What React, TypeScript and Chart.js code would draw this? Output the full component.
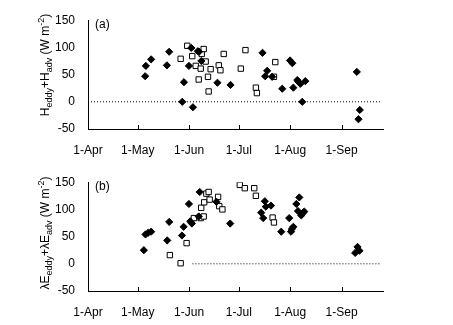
import React, { useEffect, useRef } from 'react';
import { Chart, registerables } from 'chart.js';

Chart.register(...registerables);

// x values are days after 1 April
const monthLabels = ['1-Apr', '1-May', '1-Jun', '1-Jul', '1-Aug', '1-Sep'];
const monthDays = [0, 30, 61, 91, 122, 153];
const xMax = 178;
const yMin = -50;
const yMax = 150;
const yStep = 50;

// Panel (a): H_eddy + H_adv
const aDiamondDays = [34.5, 34.9, 38.1, 47.6, 49.0, 56.9, 57.9, 60.9, 62.3, 63.3, 66.3, 67.0, 68.4, 78.1, 86.0, 105.3, 106.9, 108.1, 111.1, 117.2, 121.9, 123.3, 123.9, 126.3, 126.9, 128.1, 129.3, 131.1, 162.2, 163.2, 164.0];
const aDiamondVals = [47, 66, 78, 67, 92, 0, 36, 66, 99, -10, 93, 92, 75, 35, 31, 90, 47, 57, 46, 24, 76, 71, 26, 40, 37, 33, 0, 38, 55, -32, -15];
const aSquareDays = [55.9, 59.9, 62.9, 65.0, 66.8, 68.0, 68.6, 69.8, 71.0, 72.4, 72.8, 74.0, 78.9, 79.9, 81.9, 92.2, 95.0, 101.3, 101.9, 112.2, 113.0];
const aSquareVals = [79, 103, 84, 66, 41, 61, 88, 97, 74, 46, 19, 60, 67, 58, 88, 61, 95, 26, 16, 46, 73];
const aZeroLineDays = [0, 177];

// Panel (b): λE_eddy + λE_adv
const bDiamondDays = [33.7, 34.7, 36.3, 38.1, 47.8, 49.0, 56.7, 57.7, 60.9, 61.7, 62.7, 66.8, 67.4, 77.5, 85.8, 104.5, 105.7, 106.7, 107.3, 110.4, 116.6, 121.4, 122.5, 123.0, 123.9, 125.7, 126.7, 127.5, 128.7, 129.5, 130.5, 161.2, 162.6, 163.8];
const bDiamondVals = [25, 54, 57, 59, 43, 77, 52, 68, 110, 78, 74, 87, 132, 114, 74, 94, 84, 115, 105, 107, 59, 84, 59, 64, 68, 110, 97, 122, 89, 93, 96, 20, 31, 24];
const bSquareDays = [49.4, 55.9, 59.5, 63.9, 68.0, 69.8, 68.3, 70.1, 71.4, 72.8, 73.4, 78.5, 79.2, 81.1, 91.6, 94.6, 100.3, 101.3, 111.4, 112.2];
const bSquareVals = [16, 1, 38, 84, 84, 87, 103, 113, 129, 132, 118, 123, 106, 100, 145, 139, 139, 125, 85, 76];
const bZeroLineDays = [63, 177];

const FONT = "'Liberation Sans', Arial, Helvetica, sans-serif";

type Part = { t: string; sub?: boolean; sup?: boolean };

const aTitle: Part[] = [
  { t: 'H' }, { t: 'eddy', sub: true }, { t: '+H' }, { t: 'adv', sub: true },
  { t: ' (W m' }, { t: '-2', sup: true }, { t: ')' },
];
const bTitle: Part[] = [
  { t: 'λE' }, { t: 'eddy', sub: true }, { t: '+λE' }, { t: 'adv', sub: true },
  { t: ' (W m' }, { t: '-2', sup: true }, { t: ')' },
];

function pts(xs: number[], ys: number[]) {
  return xs.map((x, i) => ({ x, y: ys[i] }));
}

function makePlugin(title: Part[], label: string, titleCenterY: number) {
  return {
    id: 'decor',
    afterDraw(chart: any) {
      const ctx = chart.ctx as CanvasRenderingContext2D;
      const xs = chart.scales.x;
      const area = chart.chartArea;
      ctx.save();
      // inner x tick marks
      ctx.strokeStyle = '#000';
      ctx.lineWidth = 1;
      ctx.beginPath();
      monthDays.forEach((d) => {
        const px = Math.round(xs.getPixelForValue(d)) + 0.5;
        ctx.moveTo(px, area.bottom);
        ctx.lineTo(px, area.bottom - 4);
      });
      ctx.stroke();
      // panel label
      ctx.fillStyle = '#000';
      ctx.font = `12px ${FONT}`;
      ctx.textAlign = 'left';
      ctx.textBaseline = 'middle';
      ctx.fillText(label, area.left + 7, 25);
      // rotated rich-text y title
      const mainF = `12px ${FONT}`;
      const smallF = `9px ${FONT}`;
      let total = 0;
      const widths = title.map((p) => {
        ctx.font = p.sub || p.sup ? smallF : mainF;
        const w = ctx.measureText(p.t).width;
        total += w;
        return w;
      });
      ctx.translate(48.5, titleCenterY);
      ctx.rotate(-Math.PI / 2);
      ctx.textBaseline = 'alphabetic';
      let u = -total / 2;
      title.forEach((p, i) => {
        ctx.font = p.sub || p.sup ? smallF : mainF;
        const v = p.sub ? 3 : p.sup ? -5 : 0;
        ctx.fillText(p.t, u, v);
        u += widths[i];
      });
      ctx.restore();
    },
  };
}

function buildConfig(
  dDays: number[], dVals: number[], sDays: number[], sVals: number[], zDays: number[],
  title: Part[], label: string, titleCenterY: number,
): any {
  return {
    type: 'scatter',
    data: {
      datasets: [
        {
          label: 'filled',
          data: pts(dDays, dVals),
          pointStyle: 'rectRot',
          pointRadius: 3.6,
          backgroundColor: '#000',
          borderColor: '#000',
          borderWidth: 1,
        },
        {
          label: 'open',
          data: pts(sDays, sVals),
          pointStyle: 'rect',
          pointRadius: 3.8,
          backgroundColor: '#fff',
          borderColor: '#000',
          borderWidth: 1,
        },
        {
          type: 'line',
          label: 'zero',
          data: zDays.map((x) => ({ x, y: 0 })),
          borderColor: '#000',
          borderWidth: 1,
          borderDash: [1, 2],
          pointRadius: 0,
          fill: false,
        },
      ],
    },
    options: {
      responsive: false,
      animation: false,
      layout: { padding: { top: 15, right: 70, left: 0, bottom: 0 } },
      plugins: { legend: { display: false }, tooltip: { enabled: false }, title: { display: false } },
      scales: {
        x: {
          type: 'linear',
          min: 0,
          max: xMax,
          grid: { display: false, drawTicks: false },
          border: { display: true, color: '#000', width: 1 },
          afterBuildTicks: (s: any) => {
            s.ticks = monthDays.map((v) => ({ value: v }));
          },
          afterFit: (s: any) => {
            s.height = 33;
          },
          ticks: {
            autoSkip: false,
            maxRotation: 0,
            padding: 14,
            color: '#000',
            font: { family: FONT, size: 12 },
            callback: (v: number) => {
              const i = monthDays.indexOf(v);
              return i >= 0 ? monthLabels[i] : '';
            },
          },
        },
        y: {
          type: 'linear',
          min: yMin,
          max: yMax,
          grid: { display: false, drawTicks: false },
          border: { display: true, color: '#000', width: 1 },
          afterFit: (s: any) => {
            s.width = 88;
          },
          ticks: {
            stepSize: yStep,
            padding: 13,
            color: '#000',
            font: { family: FONT, size: 12 },
          },
        },
      },
    },
    plugins: [makePlugin(title, label, titleCenterY)],
  };
}

function Panel({ which }: { which: 'a' | 'b' }) {
  const ref = useRef<HTMLCanvasElement | null>(null);
  useEffect(() => {
    if (!ref.current) return;
    const cfg =
      which === 'a'
        ? buildConfig(aDiamondDays, aDiamondVals, aSquareDays, aSquareVals, aZeroLineDays, aTitle, '(a)', 65)
        : buildConfig(bDiamondDays, bDiamondVals, bSquareDays, bSquareVals, bZeroLineDays, bTitle, '(b)', 71);
    const chart = new Chart(ref.current, cfg);
    return () => chart.destroy();
  }, [which]);
  return <canvas ref={ref} width={453} height={162} style={{ display: 'block', width: 453, height: 162 }} />;
}

export default function App() {
  return (
    <div style={{ position: 'absolute', left: 0, top: 0, width: 453, height: 325, background: '#fff' }}>
      <Panel which="a" />
      <Panel which="b" />
    </div>
  );
}
